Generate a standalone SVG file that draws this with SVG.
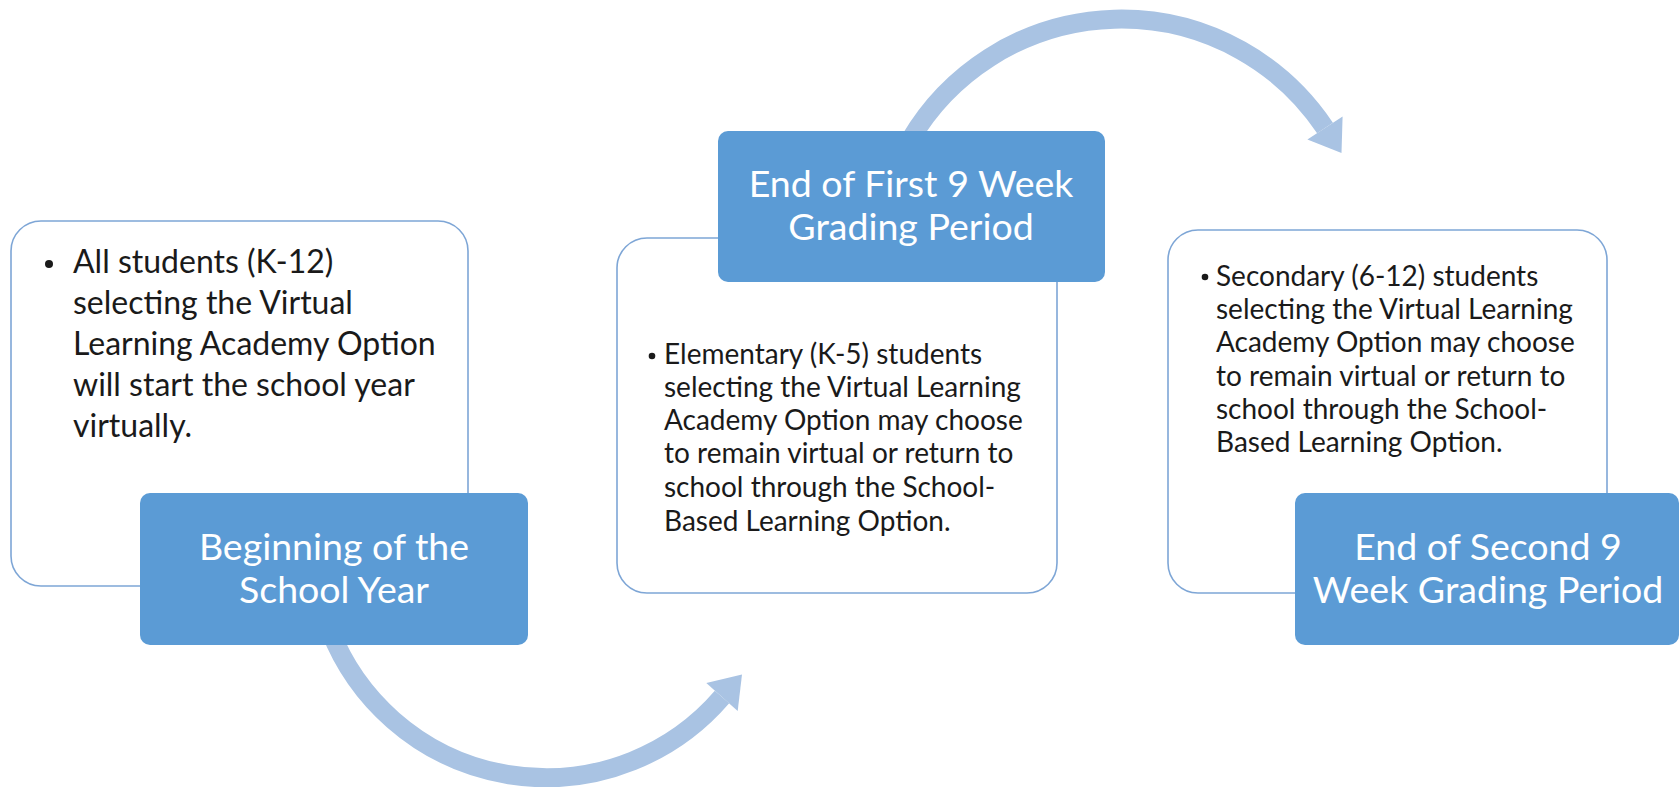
<svg xmlns="http://www.w3.org/2000/svg" width="1680" height="787" viewBox="0 0 1680 787">
<style>
.card{fill:#ffffff;stroke:#7ea6d6;stroke-width:1.6}
.head{fill:#5b9bd5}
.body{font-family:Lato,"Liberation Sans",sans-serif;fill:#1a1a1a}
.b1{font-size:32px}
.b2{font-size:28px}
.ht{font-family:Lato,"Liberation Sans",sans-serif;font-size:37.5px;fill:#ffffff;text-anchor:middle}
.arc{fill:none;stroke:#a9c3e3;stroke-width:19}
.tip{fill:#a9c3e3}
.dot{fill:#1a1a1a}
</style>
<rect width="1680" height="787" fill="#ffffff"/>
<g id="connectors">
<path class="arc" d="M 330 630 A 232 232 0 0 0 722 697"/>
<polygon class="tip" points="742,674.5 737.7,710.9 706.3,683.1"/>
<path class="arc" d="M 910 140 A 245 245 0 0 1 1325 128"/>
<polygon class="tip" points="1341.5,153 1342.6,116.5 1307.4,139.5"/>
</g>
<g id="node1">
<rect class="card" x="11" y="221" width="457" height="365" rx="30"/>
<circle class="dot" cx="49" cy="264" r="4"/>
<text class="body b1" x="73"><tspan x="73" y="273">All students (K-12)</tspan><tspan x="73" y="314">selecting the Virtual</tspan><tspan x="73" y="355">Learning Academy Option</tspan><tspan x="73" y="396">will start the school year</tspan><tspan x="73" y="437">virtually.</tspan></text>
<rect class="head" x="140" y="493" width="388" height="152" rx="10"/>
<text class="ht"><tspan x="334" y="560">Beginning of the</tspan><tspan x="334" y="603">School Year</tspan></text>
</g>
<g id="node2">
<rect class="card" x="617" y="238" width="440" height="355" rx="30"/>
<rect class="head" x="718" y="131" width="387" height="151" rx="10"/>
<text class="ht"><tspan x="911" y="197">End of First 9 Week</tspan><tspan x="911" y="240">Grading Period</tspan></text>
<circle class="dot" cx="652" cy="356" r="3.3"/>
<text class="body b2"><tspan x="664" y="364">Elementary (K-5) students</tspan><tspan x="664" y="397">selecting the Virtual Learning</tspan><tspan x="664" y="430">Academy Option may choose</tspan><tspan x="664" y="463">to remain virtual or return to</tspan><tspan x="664" y="497">school through the School-</tspan><tspan x="664" y="531">Based Learning Option.</tspan></text>
</g>
<g id="node3">
<rect class="card" x="1168" y="230" width="439" height="363" rx="30"/>
<circle class="dot" cx="1205" cy="277" r="3.3"/>
<text class="body b2"><tspan x="1216" y="286">Secondary (6-12) students</tspan><tspan x="1216" y="319">selecting the Virtual Learning</tspan><tspan x="1216" y="352">Academy Option may choose</tspan><tspan x="1216" y="386">to remain virtual or return to</tspan><tspan x="1216" y="419">school through the School-</tspan><tspan x="1216" y="452">Based Learning Option.</tspan></text>
<rect class="head" x="1295" y="493" width="384" height="152" rx="10"/>
<text class="ht"><tspan x="1488" y="560">End of Second 9</tspan><tspan x="1488" y="603">Week Grading Period</tspan></text>
</g>
</svg>
